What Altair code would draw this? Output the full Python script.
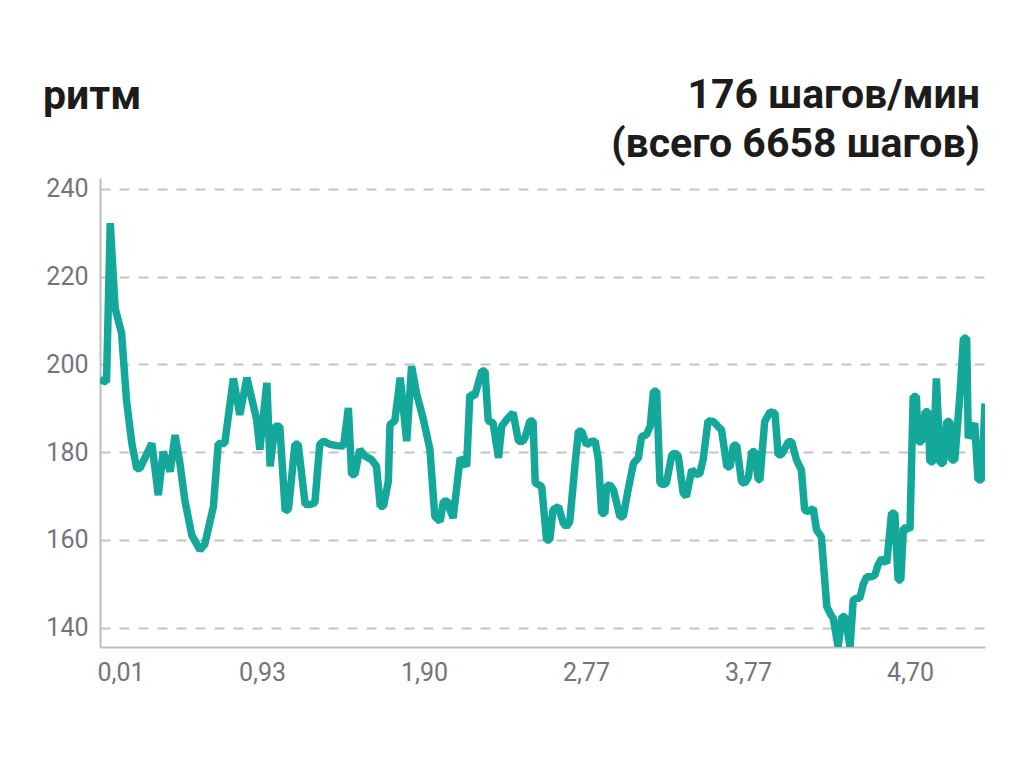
import altair as alt
import pandas as pd

title_left = "ритм"
title_right_1 = "176 шагов/мин"
title_right_2 = "(всего 6658 шагов)"

x_tick_positions = [0, 30, 60, 90, 120, 150]
x_tick_labels = ["0,01", "0,93", "1,90", "2,77", "3,77", "4,70"]
y_ticks = [140, 160, 180, 200, 220, 240]

sample = [
    0, 1.2, 1.9, 2.8, 4.0, 4.9, 5.9, 6.8, 7.4, 9.6,
    10.8, 11.7, 13.0, 13.9, 14.8, 15.7, 17.0, 18.5, 19.4, 21.0,
    21.9, 23.1, 24.7, 25.9, 27.2, 29.0, 29.6, 30.9, 31.5, 32.4,
    33.3, 34.3, 34.9, 36.1, 36.7, 38.0, 38.9, 39.8, 40.7, 41.4,
    42.6, 43.8, 45.1, 46.0, 46.6, 47.2, 48.1, 49.1, 50.3, 51.2,
    51.9, 52.5, 53.4, 53.7, 54.6, 55.6, 56.8, 57.7, 58.6, 59.9,
    61.1, 62.0, 63.0, 63.6, 64.4, 64.8, 65.4, 66.7, 67.9, 68.5,
    69.4, 70.7, 71.3, 71.9, 72.8, 73.8, 74.4, 75.3, 76.5, 77.5,
    78.3, 78.7, 79.6, 80.2, 80.6, 81.8, 82.7, 83.3, 83.9, 84.9,
    85.8, 86.4, 87.0, 88.0, 88.6, 89.2, 90.1, 91.1, 91.7, 92.3,
    92.9, 93.5, 93.8, 94.4, 95.1, 96.3, 96.9, 97.8, 98.8, 99.7,
    100.3, 101.2, 101.9, 102.5, 103.1, 103.7, 104.3, 104.9, 105.9, 106.5,
    107.1, 108.0, 108.6, 109.6, 110.5, 111.1, 111.7, 112.6, 113.6, 114.5,
    115.1, 116.1, 116.7, 117.3, 117.9, 118.8, 119.4, 120.1, 120.7, 121.3,
    121.9, 122.2, 123.1, 124.1, 125.0, 125.6, 126.2, 127.5, 128.1, 129.0,
    129.9, 130.5, 131.2, 132.1, 132.7, 133.6, 134.6, 135.2, 135.8, 136.7,
    137.4, 138.0, 138.9, 139.5, 140.1, 140.7, 141.4, 142.0, 142.9, 143.5,
    144.1, 144.8, 145.7, 146.6, 147.2, 147.8, 148.3, 148.8, 149.6, 150.0,
    150.6, 151.2, 151.5, 152.2, 152.8, 153.4, 153.7, 154.3, 154.9, 155.6,
    156.2, 156.8, 157.4, 157.7, 158.3, 159.3, 159.9, 160.5, 160.8, 162.0,
    162.6, 163.3, 163.9,
]

cadence = [
    196.5, 196.0, 232.2, 212.8, 207.1, 191.9, 182.0, 176.3, 176.3, 182.0,
    170.2, 180.1, 175.6, 183.9, 177.5, 169.1, 161.1, 157.7, 159.0, 167.6,
    182.0, 182.0, 196.8, 188.5, 197.0, 187.5, 180.6, 195.8, 176.8, 185.9,
    185.9, 166.6, 167.0, 181.8, 181.8, 168.1, 168.1, 168.5, 181.8, 182.5,
    181.8, 181.5, 181.4, 190.1, 174.9, 174.9, 180.6, 179.1, 178.3, 176.8,
    167.7, 167.7, 173.4, 186.3, 187.1, 197.0, 182.5, 199.6, 193.5, 187.4,
    180.6, 165.4, 164.2, 168.8, 168.8, 166.9, 165.0, 178.7, 176.8, 193.1,
    192.8, 198.5, 198.5, 187.1, 186.7, 178.7, 185.9, 187.4, 189.0, 182.5,
    182.5, 183.3, 187.1, 187.1, 173.0, 172.2, 160.0, 160.0, 166.9, 167.6,
    163.8, 163.0, 164.2, 177.5, 184.8, 184.8, 181.7, 182.5, 182.5, 178.3,
    166.1, 166.1, 172.2, 172.6, 171.4, 165.3, 165.3, 171.4, 177.5, 178.7,
    183.6, 184.0, 185.9, 193.9, 193.9, 173.0, 172.6, 173.0, 179.4, 179.8,
    179.1, 170.7, 169.9, 176.0, 174.9, 175.2, 178.3, 187.1, 187.0, 185.8,
    185.1, 176.7, 176.7, 181.6, 181.6, 173.3, 172.9, 174.4, 180.1, 180.1,
    173.7, 173.7, 187.0, 189.2, 188.9, 179.4, 179.4, 182.4, 182.4, 178.2,
    175.9, 166.8, 166.5, 167.2, 162.3, 160.7, 144.8, 143.3, 142.1, 135.6,
    142.5, 142.5, 135.6, 146.3, 146.7, 146.7, 150.1, 151.6, 151.6, 152.0,
    154.3, 155.8, 154.7, 166.1, 166.1, 150.9, 150.9, 162.7, 162.7, 162.3,
    192.7, 192.7, 182.4, 182.4, 189.2, 189.2, 177.8, 177.8, 196.8, 177.5,
    177.5, 187.0, 187.0, 178.2, 178.2, 193.8, 206.0, 206.0, 183.2, 186.6,
    173.7, 173.7, 191.1,
]

df = pd.DataFrame({"sample": sample, "cadence": cadence})

label_expr = (
    "[" + ",".join("'" + s + "'" for s in x_tick_labels) + "]"
    + "[indexof([" + ",".join(str(v) for v in x_tick_positions) + "], datum.value)]"
)

FONT = "Roboto"
TEXT_COLOR = "#1c1c1c"
LABEL_COLOR = "#74747c"

line = alt.Chart(df).mark_line(
    color="#14a89b", strokeWidth=7.5, clip=True, strokeJoin="bevel", strokeCap="butt"
).encode(
    x=alt.X(
        "sample:Q",
        scale=alt.Scale(domain=[0, 163.9], nice=False, zero=False),
        axis=alt.Axis(
            values=x_tick_positions,
            labelExpr=label_expr,
            title=None,
            grid=False,
            ticks=False,
            labelFlush=True,
            labelFlushOffset=3,
            labelPadding=13,
            labelFontSize=25,
            labelColor=LABEL_COLOR,
            labelFont=FONT,
            domainColor="#bdbdbd",
            domainWidth=2,
        ),
    ),
    y=alt.Y(
        "cadence:Q",
        scale=alt.Scale(domain=[135.6, 242.5], nice=False, zero=False),
        axis=alt.Axis(
            values=y_ticks,
            title=None,
            grid=True,
            gridDash=[10, 9],
            gridColor="#c4c4c4",
            gridWidth=1.8,
            ticks=False,
            labelPadding=12,
            labelFontSize=25,
            labelColor=LABEL_COLOR,
            labelFont=FONT,
            domainColor="#bdbdbd",
            domainWidth=2,
        ),
    ),
)

t_left = alt.Chart(pd.DataFrame({"t": [title_left]})).mark_text(
    align="left", baseline="alphabetic", fontSize=41, fontWeight="bold",
    font=FONT, color=TEXT_COLOR
).encode(text="t:N", x=alt.value(-57), y=alt.value(-69))

t_right1 = alt.Chart(pd.DataFrame({"t": [title_right_1]})).mark_text(
    align="right", baseline="alphabetic", fontSize=41, fontWeight="bold",
    font=FONT, color=TEXT_COLOR
).encode(text="t:N", x=alt.value(880), y=alt.value(-70))

t_right2 = alt.Chart(pd.DataFrame({"t": [title_right_2]})).mark_text(
    align="right", baseline="alphabetic", fontSize=41, fontWeight="bold",
    font=FONT, color=TEXT_COLOR
).encode(text="t:N", x=alt.value(880), y=alt.value(-21))

chart = alt.layer(line, t_left, t_right1, t_right2).properties(
    width=885,
    height=469,
    autosize=alt.AutoSizeParams(type="none"),
    padding={"left": 92, "top": 170, "right": 20, "bottom": 70},
    background="white",
).configure_view(stroke=None)

chart.save("out.html", embed_options={"renderer": "svg", "actions": False})
